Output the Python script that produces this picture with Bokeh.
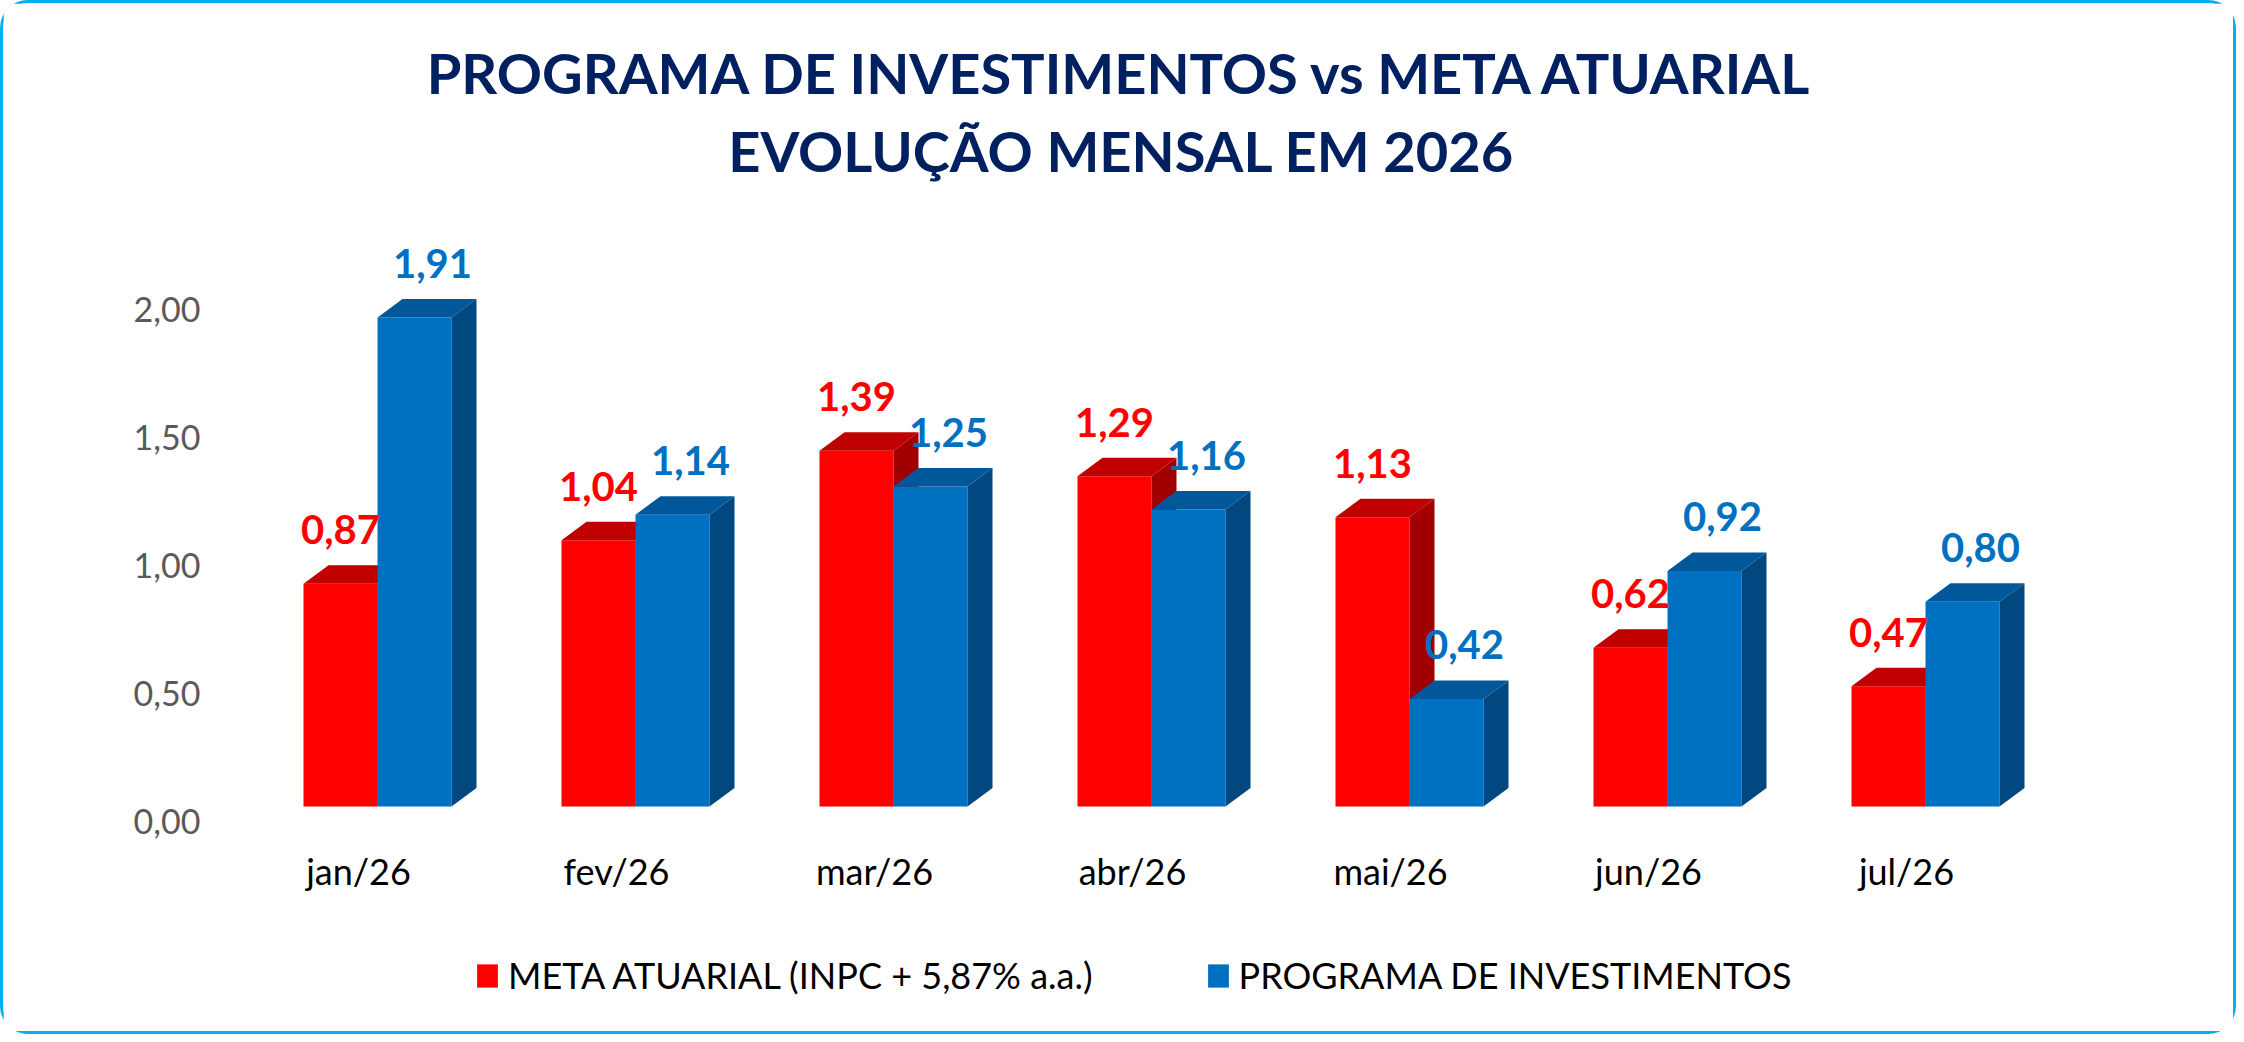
from bokeh.plotting import figure
from bokeh.models import (Range1d, LinearAxis, FixedTicker, CustomJSTickFormatter,
                          Label, Legend, LegendItem)
from bokeh.core.properties import value
from bokeh.embed import file_html
from bokeh.resources import INLINE

# ---------------- data ----------------
categories = ["jan/26", "fev/26", "mar/26", "abr/26", "mai/26", "jun/26", "jul/26"]
meta_atuarial = [0.87, 1.04, 1.39, 1.29, 1.13, 0.62, 0.47]
programa = [1.91, 1.14, 1.25, 1.16, 0.42, 0.92, 0.80]
y_ticks = [0.0, 0.5, 1.0, 1.5, 2.0]
series_names = ["META ATUARIAL (INPC + 5,87% a.a.)", "PROGRAMA DE INVESTIMENTOS"]
title_lines = ["PROGRAMA DE INVESTIMENTOS vs META ATUARIAL", "EVOLUÇÃO MENSAL EM 2026"]

# ---------------- layout / style ----------------
W, H = 2236, 1034
L, R = 238, 2148
ZERO = 803                         # canvas y of the value 0 (front face)
PXX, PXY = 258.0, 256.0            # pixels per data unit
x0 = (L - 374) / PXX
x1 = x0 + (R - L) / PXX
y0 = -(H - ZERO) / PXY
y1 = ZERO / PXY

bw = 74 / PXX                      # bar width
dx = 25 / PXX                      # 3D depth (x)
dy = 18.5 / PXY                    # 3D depth (y)

FONT = "Lato"
RED, RED_TOP, RED_SIDE = "#FF0000", "#C00000", "#A00000"
BLUE, BLUE_TOP, BLUE_SIDE = "#0070C0", "#00589A", "#00487F"

p = figure(width=W, height=H, x_range=Range1d(x0, x1), y_range=Range1d(y0, y1),
           output_backend="svg", toolbar_location=None,
           x_axis_location=None, y_axis_location=None,
           min_border_left=L, min_border_right=W - R,
           min_border_top=0, min_border_bottom=0)
p.xgrid.visible = False
p.ygrid.visible = False
p.outline_line_color = None
p.background_fill_color = "white"
p.border_fill_color = "white"
p.styles = {"border": "3px solid #00B0F0", "border-radius": "28px"}

# ---------------- value axis ----------------
p.extra_y_ranges = {"ylab": Range1d(y0 + 0.0605, y1 + 0.0605)}
yax = LinearAxis(y_range_name="ylab", ticker=FixedTicker(ticks=y_ticks),
                 formatter=CustomJSTickFormatter(code="return tick.toFixed(2).replace('.', ',');"),
                 axis_line_color=None, major_tick_line_color=None, minor_tick_line_color=None,
                 major_tick_out=0, major_tick_in=0, minor_tick_out=0, minor_tick_in=0,
                 major_label_standoff=41, major_label_text_font=FONT,
                 major_label_text_font_size="34px", major_label_text_color="#595959")
p.add_layout(yax, "left")

# ---------------- bars ----------------
idx = list(range(len(categories)))


def bar3d(lefts, vals, c_front, c_top, c_side):
    rights = [l + bw for l in lefts]
    front = p.quad(left=lefts, right=rights, bottom=[0] * len(vals), top=vals,
                   fill_color=c_front, line_color=None)
    p.patches(xs=[[l, r, r + dx, l + dx] for l, r in zip(lefts, rights)],
              ys=[[v, v, v + dy, v + dy] for v in vals],
              fill_color=c_top, line_color=None)
    p.patches(xs=[[r, r + dx, r + dx, r] for r in rights],
              ys=[[0, dy, v + dy, v] for v in vals],
              fill_color=c_side, line_color=None)
    return front


red_front = bar3d([i - bw for i in idx], meta_atuarial, RED, RED_TOP, RED_SIDE)
blue_front = bar3d([i for i in idx], programa, BLUE, BLUE_TOP, BLUE_SIDE)


def fmt(v):
    return f"{v:.2f}".replace(".", ",")


lab_off = 54 / PXY
p.text(x=[i - bw / 2 for i in idx], y=[v + lab_off for v in meta_atuarial],
       text=[fmt(v) for v in meta_atuarial], text_font=value(FONT), text_font_style="bold",
       text_font_size="40px", text_color=RED, text_align="center", text_baseline="alphabetic")
p.text(x=[i + bw / 2 + 18 / PXX for i in idx], y=[v + lab_off for v in programa],
       text=[fmt(v) for v in programa], text_font=value(FONT), text_font_style="bold",
       text_font_size="40px", text_color=BLUE, text_align="center", text_baseline="alphabetic")

# ---------------- category labels ----------------
p.text(x=[i - 19 / PXX for i in idx], y=[-64 / PXY] * len(idx), text=categories,
       text_font=value(FONT), text_font_size="36px", text_color="#000000",
       text_align="center", text_baseline="alphabetic")

# ---------------- titles ----------------
for txt, yy in zip(title_lines, [965, 887]):
    p.add_layout(Label(x=880, y=yy, x_units="screen", y_units="screen", text=txt,
                       text_align="center", text_baseline="alphabetic", text_font=FONT,
                       text_font_style="bold", text_font_size="56px", text_color="#002060"))

# ---------------- legend ----------------
legend = Legend(items=[LegendItem(label=series_names[0], renderers=[red_front]),
                       LegendItem(label=series_names[1], renderers=[blue_front])],
                orientation="horizontal", location=(233, 40),
                glyph_width=26, glyph_height=29, label_standoff=8, spacing=112,
                padding=0, margin=0, border_line_color=None, background_fill_alpha=0,
                label_text_font=FONT, label_text_font_size="36px", label_text_color="#000000")
p.add_layout(legend)

open("out.html", "w").write(file_html(p, INLINE))
